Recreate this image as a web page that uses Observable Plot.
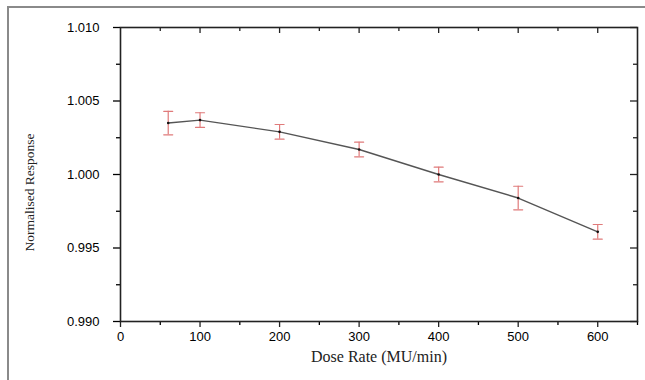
<!DOCTYPE html>
<html><head><meta charset="utf-8">
<script src="https://cdn.jsdelivr.net/npm/d3@7"></script>
<script src="https://cdn.jsdelivr.net/npm/@observablehq/plot@0.6"></script>
<style>
body{margin:0;background:#fff;}
#wrap{position:relative;width:645px;height:380px;overflow:hidden;}
#border{position:absolute;left:7px;top:6px;width:700px;height:500px;border-left:2px solid #8a8a8a;border-top:2px solid #8a8a8a;}
</style></head>
<body><div id="wrap"><div id="border"></div></div>
<script>
const doseRate = [60, 100, 200, 300, 400, 500, 600];
const response = [1.0035, 1.0037, 1.0029, 1.0017, 1.0000, 0.9984, 0.9961];
const errLow   = [1.0027, 1.0032, 1.0024, 1.0012, 0.9995, 0.9976, 0.9956];
const errHigh  = [1.0043, 1.0042, 1.0034, 1.0022, 1.0005, 0.9992, 0.9966];
const xMajor = [0, 100, 200, 300, 400, 500, 600];
const xMinor = [50, 150, 250, 350, 450, 550, 650];
const yMajor = [0.990, 0.995, 1.000, 1.005, 1.010];
const yMinor = [0.9925, 0.9975, 1.0025, 1.0075];

const data = doseRate.map((x, i) => ({x, y: response[i], lo: errLow[i], hi: errHigh[i]}));
const H = 380, mt = 27, mb = 59, ml = 120, mr = 8;
const ph = H - mt - mb, pw = 645 - ml - mr;
const errColor = "#e07a7a";
const cap = {draw(ctx, l) { ctx.moveTo(0, 0); ctx.lineTo(0, -l); }};

const chart = Plot.plot({
  width: 645, height: H,
  marginTop: mt, marginBottom: mb, marginLeft: ml, marginRight: mr,
  style: {background: "transparent", overflow: "visible"},
  x: {domain: [0, 650]},
  y: {domain: [0.990, 1.010]},
  marks: [
    Plot.axisX({anchor: "bottom", ticks: xMajor, tickSize: 6, tickPadding: 4, label: null,
      fontSize: 13, fontFamily: "Liberation Sans, Arial, sans-serif", stroke: "#222", strokeWidth: 1.3}),
    Plot.axisX({anchor: "bottom", ticks: xMinor, tickSize: 4, text: null, label: null, strokeWidth: 1.3}),
    Plot.axisY({anchor: "left", ticks: yMajor, tickSize: 7, tickPadding: 14, tickFormat: d3.format(".3f"), label: null,
      fontSize: 13, fontFamily: "Liberation Sans, Arial, sans-serif", strokeWidth: 1.3}),
    Plot.axisY({anchor: "left", ticks: yMinor, tickSize: 4, text: null, label: null, strokeWidth: 1.3}),
    // inward ticks on top and right
    Plot.tickX(xMajor.filter(d => d > 0), {x: d => d, insetBottom: ph - 6, stroke: "#222", strokeWidth: 1.3}),
    Plot.tickX(xMinor.filter(d => d < 650), {x: d => d, insetBottom: ph - 4, stroke: "#222", strokeWidth: 1.3}),
    Plot.tickY(yMajor, {y: d => d, insetLeft: pw - 7, stroke: "#222", strokeWidth: 1.3}),
    Plot.tickY(yMinor, {y: d => d, insetLeft: pw - 4, stroke: "#222", strokeWidth: 1.3}),
    Plot.frame({stroke: "#222", strokeWidth: 1.6}),
    Plot.line(data, {x: "x", y: "y", stroke: "#555", strokeWidth: 1.4}),
    Plot.ruleX(data, {x: "x", y1: "lo", y2: "hi", stroke: errColor, strokeWidth: 1.2}),
    Plot.vector(data, {x: "x", y: "lo", length: 9, rotate: 90, anchor: "middle", shape: cap, stroke: errColor, strokeWidth: 1.2}),
    Plot.vector(data, {x: "x", y: "hi", length: 9, rotate: 90, anchor: "middle", shape: cap, stroke: errColor, strokeWidth: 1.2}),
    Plot.dot(data, {x: "x", y: "y", r: 1.3, fill: "#111", stroke: null}),
    Plot.text(["Dose Rate (MU/min)"], {frameAnchor: "bottom", textAnchor: "middle", dy: 40, fontSize: 16,
      fontFamily: "Liberation Serif, Times New Roman, serif", fill: "#222"}),
    Plot.text(["Normalised Response"], {frameAnchor: "left", textAnchor: "middle", dx: -91, dy: 18, rotate: -90, fontSize: 13.5,
      fontFamily: "Liberation Serif, Times New Roman, serif", fill: "#222"})
  ]
});
chart.style.position = "absolute";
chart.style.left = "0px";
chart.style.top = "0px";
document.getElementById("wrap").appendChild(chart);
</script>
</body></html>
